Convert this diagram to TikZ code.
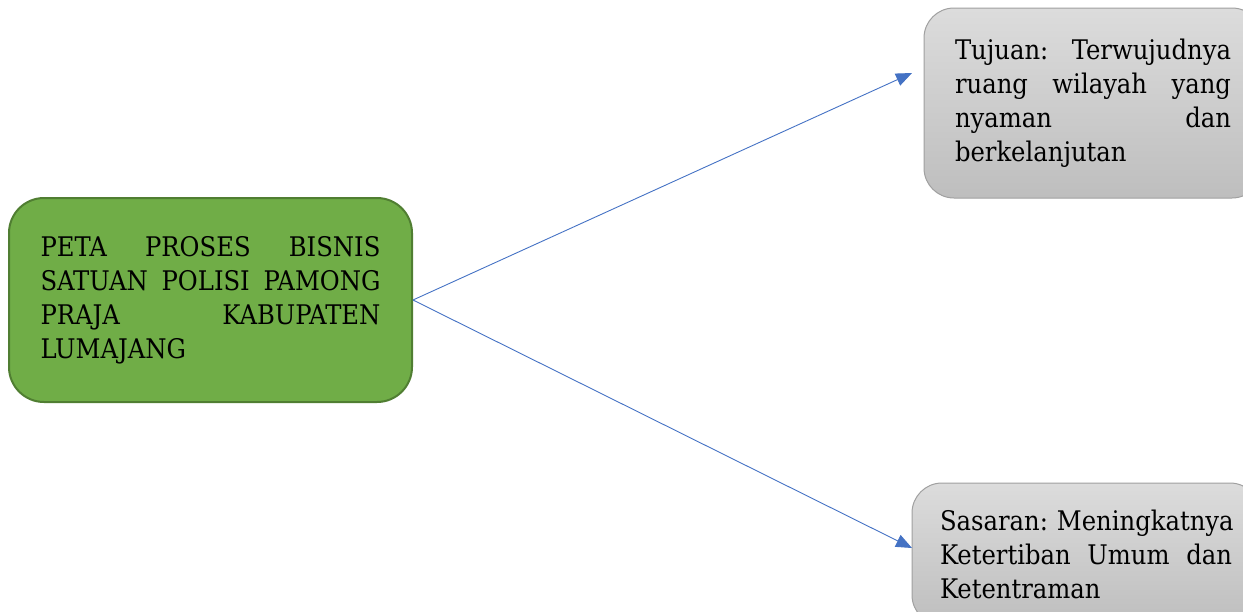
\documentclass[tikz,border=0pt]{standalone}
\usepackage{fontspec}
\setmainfont{DejaVu Serif Condensed}
\usetikzlibrary{arrows.meta}
\definecolor{gfill}{RGB}{112,173,71}
\definecolor{gdraw}{RGB}{80,126,50}
\definecolor{bline}{RGB}{68,114,196}
\definecolor{gtop}{RGB}{220,220,220}
\definecolor{gbot}{RGB}{190,190,190}
\definecolor{gborder}{RGB}{160,160,160}
\newcommand{\jline}[2]{\makebox[#1][s]{#2}}
\newcommand{\lline}[2]{\makebox[#1][l]{#2}}
\tikzset{
  txt/.style={font=\fontsize{27}{34}\selectfont, align=left, inner sep=0pt},
  greenbox/.style={txt, draw=gdraw, line width=2pt, fill=gfill, rounded corners=35pt},
  graybox/.style={txt, draw=gborder, line width=1pt, top color=gtop, bottom color=gbot, rounded corners=30pt},
  conn/.style={draw=bline, line width=0.9pt, -{Triangle[length=16pt,width=13pt]}}
}
\begin{document}
\begin{tikzpicture}[x=1pt,y=-1pt]
\useasboundingbox (0,0) rectangle (1243,611);
\clip (0,0) rectangle (1243,611);
\node[greenbox, minimum width=403pt, minimum height=204pt] (peta) at (210.5,300)
  {\jline{340pt}{PETA PROSES BISNIS}\\\jline{340pt}{SATUAN POLISI PAMONG}\\\jline{340pt}{PRAJA KABUPATEN}\\\lline{340pt}{LUMAJANG}};
\node[graybox, minimum width=338pt, minimum height=190pt] (tujuan) at (1093,103)
  {\jline{276pt}{Tujuan: Terwujudnya}\\\jline{276pt}{ruang wilayah yang}\\\jline{276pt}{nyaman dan}\\\lline{276pt}{berkelanjutan}};
\node[graybox, minimum width=348pt, minimum height=142pt] (sasaran) at (1086,554)
  {\jline{292pt}{Sasaran: Meningkatnya}\\\jline{292pt}{Ketertiban Umum dan}\\\lline{292pt}{Ketentraman}};
\coordinate (t1) at (912,73);
\coordinate (t2) at (912,548);
\draw[conn] (peta.east) -- (t1);
\draw[conn] (peta.east) -- (t2);
\end{tikzpicture}
\end{document}
